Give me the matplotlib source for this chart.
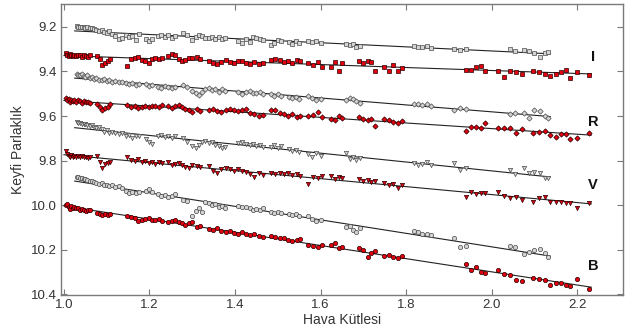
import matplotlib
matplotlib.use("Agg")
import matplotlib.pyplot as plt
import numpy as np

# airmass of the comparison (grey) and target (red) frames
x_gray = [1.030, 1.034, 1.038, 1.042, 1.046, 1.050, 1.055, 1.060, 1.065, 1.070, 1.076, 1.082,
          1.088, 1.094, 1.100, 1.106, 1.112, 1.120, 1.128, 1.136, 1.145, 1.152, 1.160, 1.168,
          1.176, 1.192, 1.200, 1.207, 1.220, 1.228, 1.236, 1.244, 1.252, 1.260, 1.278, 1.288,
          1.300, 1.308, 1.316, 1.323, 1.330, 1.338, 1.346, 1.354, 1.362, 1.370, 1.377, 1.408,
          1.416, 1.425, 1.434, 1.442, 1.450, 1.458, 1.466, 1.484, 1.492, 1.500, 1.508, 1.526,
          1.534, 1.542, 1.550, 1.570, 1.580, 1.590, 1.600, 1.660, 1.668, 1.676, 1.684, 1.692,
          1.818, 1.828, 1.838, 1.848, 1.858, 1.912, 1.925, 1.940, 2.042, 2.054, 2.076, 2.088,
          2.100, 2.112, 2.124, 2.132]

x_red = [1.005, 1.008, 1.011, 1.014, 1.017, 1.020, 1.024, 1.028, 1.032, 1.037, 1.042, 1.047,
         1.052, 1.057, 1.061, 1.078, 1.084, 1.090, 1.096, 1.102, 1.108, 1.148, 1.156, 1.166,
         1.174, 1.182, 1.190, 1.198, 1.206, 1.214, 1.222, 1.230, 1.244, 1.252, 1.260, 1.268,
         1.276, 1.284, 1.292, 1.300, 1.310, 1.318, 1.338, 1.348, 1.358, 1.368, 1.378, 1.388,
         1.398, 1.408, 1.416, 1.425, 1.435, 1.445, 1.455, 1.465, 1.484, 1.494, 1.504, 1.514,
         1.524, 1.534, 1.544, 1.552, 1.570, 1.582, 1.594, 1.604, 1.624, 1.634, 1.642, 1.650,
         1.690, 1.700, 1.710, 1.718, 1.727, 1.748, 1.760, 1.770, 1.782, 1.791, 1.940, 1.952,
         1.964, 1.975, 1.985, 2.016, 2.030, 2.043, 2.058, 2.071, 2.096, 2.110, 2.124, 2.137,
         2.150, 2.162, 2.174, 2.184, 2.200, 2.228]

I_gray = [9.196, 9.200, 9.198, 9.202, 9.199, 9.204, 9.200, 9.205, 9.203, 9.208, 9.212, 9.218,
          9.214, 9.222, 9.226, 9.220, 9.232, 9.240, 9.254, 9.248, 9.236, 9.243, 9.240, 9.260,
          9.231, 9.252, 9.262, 9.255, 9.240, 9.236, 9.245, 9.238, 9.248, 9.242, 9.228, 9.234,
          9.260, 9.245, 9.238, 9.242, 9.248, 9.250, 9.244, 9.252, 9.246, 9.255, 9.250, 9.262,
          9.270, 9.255, 9.268, 9.245, 9.248, 9.252, 9.258, 9.280, 9.270, 9.258, 9.262, 9.268,
          9.276, 9.262, 9.270, 9.262, 9.268, 9.265, 9.270, 9.275, 9.282, 9.278, 9.292, 9.285,
          9.285, 9.290, 9.288, 9.286, 9.295, 9.298, 9.305, 9.300, 9.298, 9.306, 9.303, 9.310,
          9.315, 9.333, 9.315, 9.312]

R_gray = [9.410, 9.415, 9.418, 9.412, 9.420, 9.425, 9.418, 9.428, 9.425, 9.432, 9.430, 9.436,
          9.440, 9.435, 9.442, 9.438, 9.445, 9.443, 9.448, 9.445, 9.450, 9.458, 9.452, 9.462,
          9.455, 9.458, 9.465, 9.460, 9.468, 9.472, 9.465, 9.470, 9.475, 9.468, 9.462, 9.470,
          9.488, 9.498, 9.505, 9.492, 9.478, 9.472, 9.485, 9.480, 9.490, 9.478, 9.486, 9.490,
          9.500, 9.492, 9.488, 9.495, 9.498, 9.490, 9.502, 9.500, 9.508, 9.502, 9.510, 9.515,
          9.520, 9.516, 9.524, 9.508, 9.520, 9.530, 9.522, 9.528, 9.520, 9.525, 9.532, 9.540,
          9.548, 9.544, 9.552, 9.548, 9.555, 9.573, 9.563, 9.570, 9.590, 9.588, 9.588, 9.608,
          9.575, 9.578, 9.598, 9.608]

V_gray = [9.628, 9.632, 9.630, 9.635, 9.638, 9.636, 9.641, 9.645, 9.642, 9.648, 9.652, 9.650,
          9.660, 9.672, 9.665, 9.678, 9.670, 9.675, 9.682, 9.678, 9.690, 9.685, 9.698, 9.692,
          9.688, 9.705, 9.718, 9.725, 9.690, 9.685, 9.695, 9.688, 9.698, 9.692, 9.700, 9.715,
          9.735, 9.745, 9.728, 9.718, 9.712, 9.720, 9.715, 9.728, 9.735, 9.742, 9.738, 9.722,
          9.718, 9.726, 9.730, 9.724, 9.735, 9.732, 9.740, 9.738, 9.732, 9.742, 9.736, 9.748,
          9.758, 9.752, 9.762, 9.770, 9.782, 9.765, 9.778, 9.768, 9.792, 9.785, 9.798, 9.790,
          9.810, 9.822, 9.815, 9.808, 9.818, 9.812, 9.843, 9.834, 9.843, 9.860, 9.832, 9.855,
          9.852, 9.858, 9.880, 9.878]

B_gray = [9.872, 9.874, 9.877, 9.879, 9.882, 9.884, 9.886, 9.890, 9.893, 9.897, 9.900, 9.905,
          9.903, 9.908, 9.912, 9.915, 9.910, 9.918, 9.915, 9.922, 9.937, 9.945, 9.940, 9.948,
          9.942, 9.935, 9.928, 9.940, 9.952, 9.960, 9.955, 9.962, 9.958, 9.952, 9.975, 9.982,
          10.050, 10.025, 10.015, 10.030, 9.985, 9.992, 10.000, 9.995, 10.010, 10.005, 10.015, 10.005,
          10.010, 10.008, 10.015, 10.020, 10.018, 10.022, 10.015, 10.030, 10.035, 10.030, 10.034, 10.038,
          10.045, 10.040, 10.048, 10.050, 10.062, 10.070, 10.068, 10.100, 10.095, 10.112, 10.120, 10.105,
          10.115, 10.122, 10.130, 10.128, 10.133, 10.148, 10.188, 10.182, 10.185, 10.190, 10.218, 10.210,
          10.203, 10.198, 10.214, 10.232]

I_red = [9.318, 9.325, 9.330, 9.322, 9.328, 9.332, 9.326, 9.330, 9.324, 9.328, 9.334, 9.326,
         9.330, 9.333, 9.328, 9.330, 9.345, 9.370, 9.362, 9.355, 9.345, 9.375, 9.345, 9.340,
         9.335, 9.348, 9.352, 9.360, 9.345, 9.340, 9.343, 9.338, 9.330, 9.322, 9.328, 9.345,
         9.352, 9.348, 9.340, 9.338, 9.336, 9.342, 9.355, 9.362, 9.366, 9.356, 9.350, 9.358,
         9.362, 9.352, 9.355, 9.360, 9.365, 9.356, 9.368, 9.362, 9.348, 9.342, 9.350, 9.356,
         9.352, 9.360, 9.348, 9.355, 9.362, 9.372, 9.356, 9.378, 9.378, 9.356, 9.396, 9.360,
         9.355, 9.360, 9.352, 9.358, 9.400, 9.381, 9.396, 9.370, 9.398, 9.385, 9.393, 9.393,
         9.381, 9.375, 9.400, 9.398, 9.423, 9.398, 9.404, 9.411, 9.398, 9.404, 9.410, 9.419,
         9.411, 9.404, 9.393, 9.430, 9.402, 9.415]

R_red = [9.520, 9.530, 9.524, 9.535, 9.528, 9.532, 9.526, 9.538, 9.530, 9.534, 9.540, 9.532,
         9.538, 9.535, 9.542, 9.545, 9.560, 9.572, 9.565, 9.558, 9.548, 9.550, 9.558, 9.555,
         9.562, 9.558, 9.555, 9.560, 9.556, 9.554, 9.560, 9.552, 9.556, 9.562, 9.555, 9.552,
         9.560, 9.568, 9.574, 9.580, 9.570, 9.576, 9.575, 9.570, 9.578, 9.582, 9.575, 9.568,
         9.572, 9.578, 9.574, 9.570, 9.585, 9.592, 9.600, 9.595, 9.572, 9.575, 9.585, 9.590,
         9.598, 9.592, 9.605, 9.598, 9.600, 9.595, 9.584, 9.605, 9.612, 9.620, 9.598, 9.608,
         9.605, 9.612, 9.620, 9.615, 9.643, 9.612, 9.618, 9.628, 9.632, 9.622, 9.666, 9.648,
         9.650, 9.656, 9.630, 9.652, 9.655, 9.654, 9.675, 9.660, 9.675, 9.674, 9.667, 9.685,
         9.695, 9.683, 9.683, 9.703, 9.698, 9.677]

V_red = [9.758, 9.770, 9.778, 9.785, 9.775, 9.782, 9.778, 9.786, 9.780, 9.784, 9.778, 9.786,
         9.782, 9.790, 9.785, 9.780, 9.808, 9.832, 9.815, 9.810, 9.805, 9.785, 9.798, 9.802,
         9.795, 9.806, 9.800, 9.810, 9.805, 9.815, 9.808, 9.812, 9.805, 9.818, 9.815, 9.810,
         9.822, 9.828, 9.835, 9.820, 9.826, 9.830, 9.825, 9.845, 9.855, 9.840, 9.832, 9.838,
         9.845, 9.840, 9.848, 9.850, 9.862, 9.872, 9.858, 9.864, 9.855, 9.860, 9.856, 9.862,
         9.858, 9.866, 9.860, 9.868, 9.906, 9.872, 9.880, 9.868, 9.870, 9.882, 9.875, 9.880,
         9.885, 9.890, 9.888, 9.896, 9.892, 9.902, 9.910, 9.906, 9.925, 9.912, 9.964, 9.940,
         9.950, 9.947, 9.947, 9.940, 9.960, 9.970, 9.965, 9.977, 9.985, 9.970, 9.965, 9.985,
         9.985, 9.985, 9.990, 9.990, 10.013, 9.990]

B_red = [10.000, 9.995, 10.010, 10.018, 10.005, 10.012, 10.008, 10.015, 10.012, 10.020, 10.016, 10.022,
         10.028, 10.024, 10.020, 10.035, 10.042, 10.046, 10.040, 10.044, 10.038, 10.048, 10.052, 10.060,
         10.070, 10.065, 10.062, 10.058, 10.066, 10.068, 10.064, 10.070, 10.074, 10.070, 10.068, 10.075,
         10.082, 10.088, 10.080, 10.076, 10.100, 10.096, 10.108, 10.112, 10.105, 10.115, 10.120, 10.118,
         10.124, 10.128, 10.122, 10.130, 10.136, 10.132, 10.140, 10.145, 10.138, 10.142, 10.148, 10.150,
         10.155, 10.162, 10.158, 10.152, 10.178, 10.185, 10.190, 10.180, 10.178, 10.172, 10.195, 10.188,
         10.195, 10.202, 10.232, 10.215, 10.208, 10.228, 10.225, 10.232, 10.238, 10.230, 10.265, 10.292,
         10.280, 10.300, 10.304, 10.292, 10.310, 10.312, 10.337, 10.340, 10.328, 10.330, 10.338, 10.360,
         10.350, 10.352, 10.358, 10.364, 10.333, 10.378]

bands = ["I", "R", "V", "B"]
band_label_y = [9.335, 9.627, 9.91, 10.274]
markers = ["s", "D", "v", "o"]
gray_series = [I_gray, R_gray, V_gray, B_gray]
red_series = [I_red, R_red, V_red, B_red]

GRAYFACE = "#d4d4d4"; GRAYEDGE = "#4a4a4a"
REDFACE = "#e3000f"; REDEDGE = "#2a0000"
AXIS = "#7a7a7a"; TXT = "#333333"

plt.rcParams.update({
    "font.family": ["Liberation Sans", "DejaVu Sans"],
    "font.size": 9.5,
    "axes.edgecolor": AXIS, "axes.linewidth": 1.0,
    "xtick.color": AXIS, "ytick.color": AXIS,
    "xtick.labelcolor": TXT, "ytick.labelcolor": TXT,
    "axes.labelcolor": TXT,
})

fig = plt.figure(figsize=(6.35, 3.36), dpi=100)
ax = fig.add_axes([0.096, 0.122, 0.885, 0.866])

xg = np.array(x_gray)
xr = np.array(x_red)
for mk, yg, yr in zip(markers, gray_series, red_series):
    ms = 2.7 if mk == "D" else 3.1
    for xs, ys, fc, ec in [(xg, np.array(yg), GRAYFACE, GRAYEDGE),
                           (xr, np.array(yr), REDFACE, REDEDGE)]:
        k, b = np.polyfit(xs, ys, 1)
        xl = np.array([xs.min() - 0.005, xs.max() + 0.005])
        ax.plot(xl, k * xl + b, color="#222222", lw=0.8, zorder=2)
        ax.plot(xs, ys, ls="none", marker=mk, ms=ms, mfc=fc, mec=ec, mew=0.5, zorder=3)

for name, yl in zip(bands, band_label_y):
    ax.text(2.237, yl, name, ha="center", va="center", fontsize=10.5,
            fontweight="bold", color="#111111")

ax.set_xlim(0.993, 2.307)
ax.set_ylim(10.404, 9.097)
ax.set_xticks([1.0, 1.2, 1.4, 1.6, 1.8, 2.0, 2.2])
ax.set_yticks([9.2, 9.4, 9.6, 9.8, 10.0, 10.2, 10.4])
ax.xaxis.set_major_formatter(matplotlib.ticker.FormatStrFormatter("%.1f"))
ax.yaxis.set_major_formatter(matplotlib.ticker.FormatStrFormatter("%.1f"))
ax.tick_params(direction="in", top=True, right=True, length=4, width=0.8,
               labelsize=9.5, pad=3)
ax.set_xlabel("Hava Kütlesi", fontsize=10, labelpad=1)
ax.set_ylabel("Keyfi Parlaklık", fontsize=10, labelpad=4)

fig.savefig("out.png", dpi=100)
